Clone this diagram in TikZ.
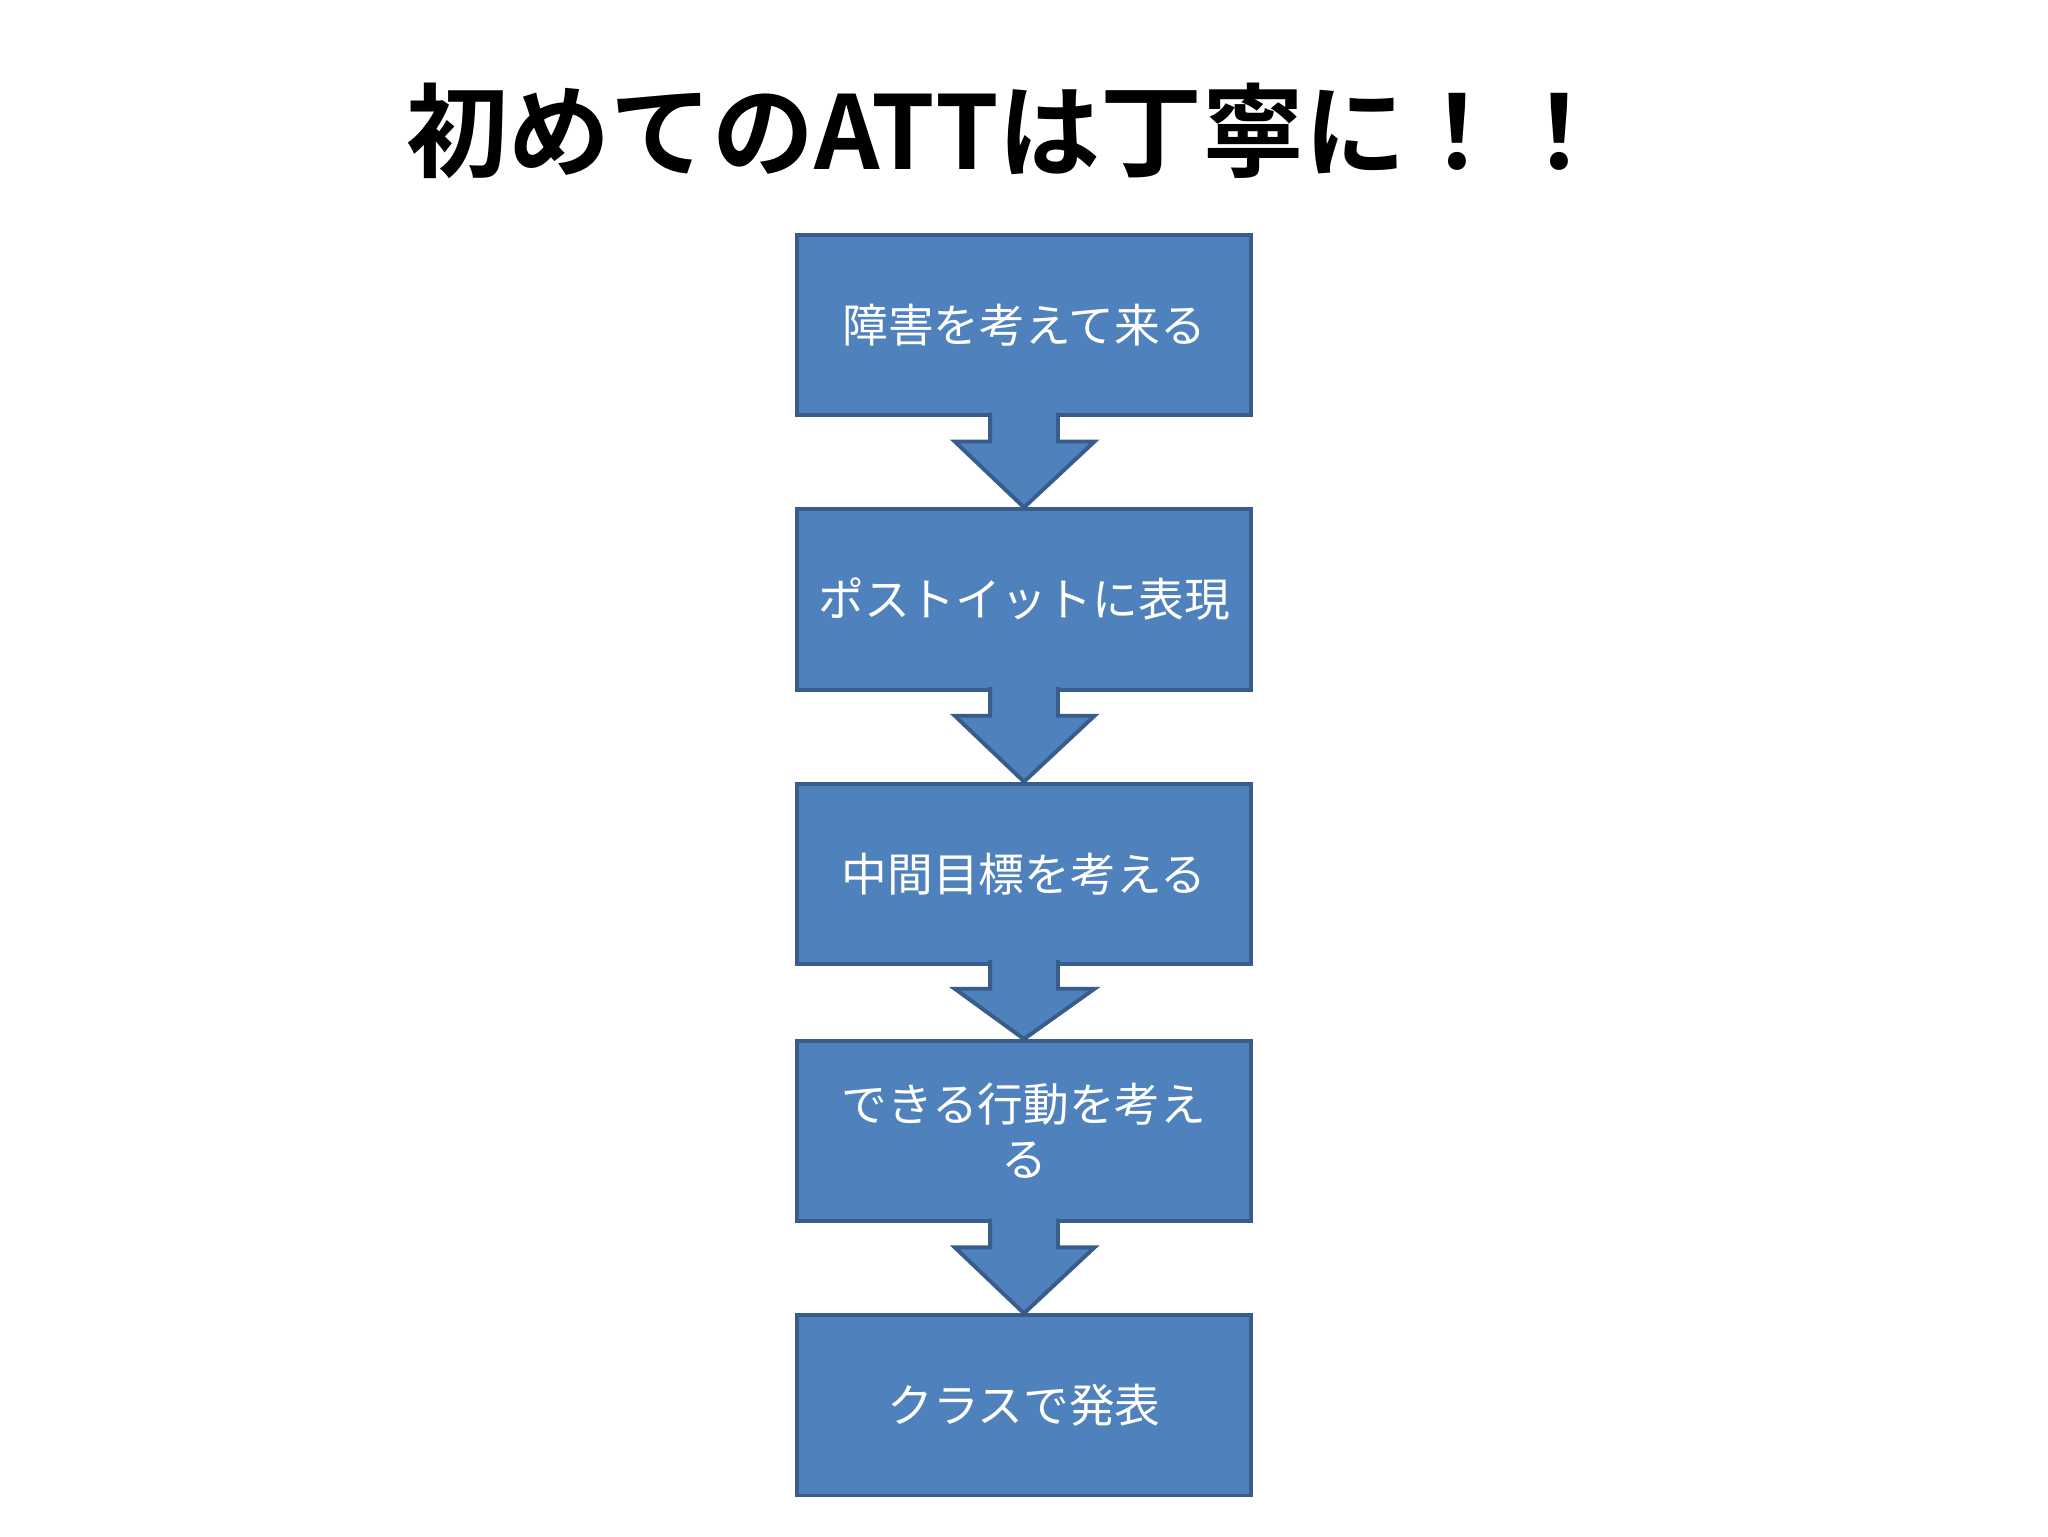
\documentclass[tikz,border=0pt]{standalone}
\usepackage{fontspec}
\newfontfamily\cjk{Noto Sans CJK JP}
\newfontfamily\cjkb{Noto Sans CJK JP Bold}
\definecolor{boxfill}{HTML}{4F81BD}
\definecolor{boxline}{HTML}{385D8A}
\begin{document}
\begin{tikzpicture}[x=1pt,y=-1pt,
  stepbox/.style={draw=boxline,fill=boxfill,line width=3pt,minimum width=348pt,minimum height=138pt,inner sep=0pt,text=white,font=\cjk\fontsize{35}{42}\selectfont,align=center},
  flowarrow/.style={draw=boxline,fill=boxfill,line width=3pt,line join=miter}]
\useasboundingbox (0,0) rectangle (1568,1176);
\fill[white] (0,0) rectangle (1568,1176);
\node (title) at (772,100) {\cjkb\fontsize{78}{90}\selectfont 初めてのATTは丁寧に！！};
\foreach \n/\y/\txt in {a/249/障害を考えて来る,b/459/ポストイットに表現,c/669/中間目標を考える,d/866/{できる行動を考え\\る},e/1076/クラスで発表}{
  \node[stepbox] (box\n) at (784,\y) {\txt};
}
\foreach \s/\t/\m in {a/b/338,b/c/548,c/d/757,d/e/955}{
  \draw[flowarrow] (758,\m-22) -- (758,\m) -- (731,\m) -- (box\t.north) -- (838,\m) -- (810,\m) -- (810,\m-22);
}
\end{tikzpicture}
\end{document}
